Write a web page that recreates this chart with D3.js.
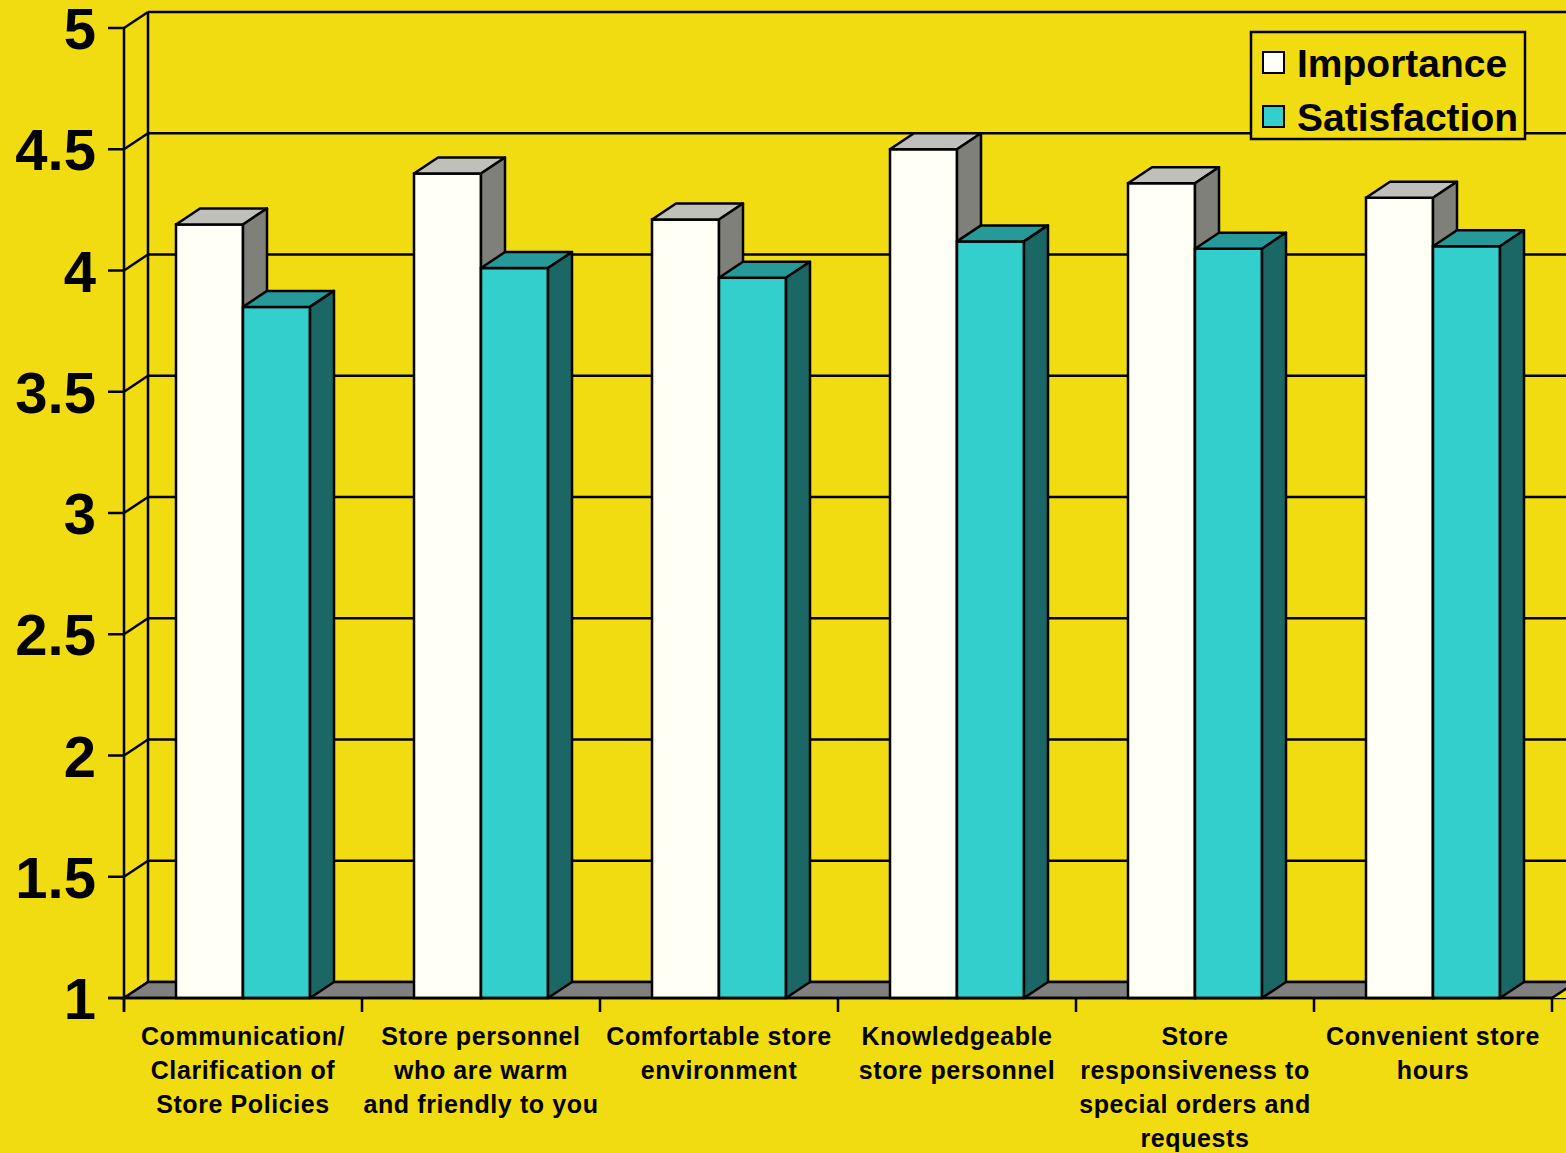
<!DOCTYPE html>
<html>
<head>
<meta charset="utf-8">
<script src="https://cdn.jsdelivr.net/npm/d3@7"></script>
<style>
  html, body { margin: 0; padding: 0; background: #F0DC10; }
  svg { display: block; }
  text { font-family: "Liberation Sans", Arial, sans-serif; font-weight: bold; fill: #000; }
</style>
</head>
<body>
<svg id="chart" width="1566" height="1153"></svg>
<script>
// Store attribute ratings (1–5 scale)
const categories = [
  "Communication/|Clarification of|Store Policies",
  "Store personnel|who are warm|and friendly to you",
  "Comfortable store|environment",
  "Knowledgeable|store personnel",
  "Store|responsiveness to|special orders and|requests",
  "Convenient store|hours"
];
const seriesNames = ["Importance", "Satisfaction"];
const importance = [4.19, 4.40, 4.21, 4.50, 4.36, 4.30];
const satisfaction = [3.85, 4.01, 3.97, 4.12, 4.09, 4.10];
const yTicks = [1, 1.5, 2, 2.5, 3, 3.5, 4, 4.5, 5];
const yTickLabels = ["1", "1.5", "2", "2.5", "3", "3.5", "4", "4.5", "5"];

const seriesValues = { Importance: importance, Satisfaction: satisfaction };
const colors = {
  Importance:   { front: "#FFFFF5", top: "#C0C0BA", side: "#80807A" },
  Satisfaction: { front: "#33CFCD", top: "#269A99", side: "#1B6766" }
};

const svg = d3.select("#chart");
const DX = 24, DY = -16;            // depth offset of the 3D box
const plotLeft = 124, plotRight = 1552, plotBottom = 998, plotTop = 28;

const y = d3.scaleLinear().domain([1, 5]).range([plotBottom, plotTop]);
const x = d3.scaleBand().domain(categories).range([plotLeft, plotRight]).padding(0);
const xs = d3.scaleBand().domain(seriesNames).range([52, 186]).padding(0);

const line = (x1, y1, x2, y2, w = 2.5) =>
  svg.append("line").attr("x1", x1).attr("y1", y1).attr("x2", x2).attr("y2", y2)
     .attr("stroke", "#000").attr("stroke-width", w);

// back wall gridlines
yTicks.forEach(t => line(plotLeft + DX, y(t) + DY, plotRight + DX + 40, y(t) + DY, 2.5));
// back wall left edge
line(plotLeft + DX, y(5) + DY, plotLeft + DX, y(1) + DY);

// side wall: diagonals at each tick
yTicks.forEach(t => line(plotLeft, y(t), plotLeft + DX, y(t) + DY, 2.5));

// floor
svg.append("polygon")
  .attr("points", [[plotLeft, plotBottom], [plotLeft + DX, plotBottom + DY], [plotRight + DX + 40, plotBottom + DY], [plotRight + 40, plotBottom]].join(" "))
  .attr("fill", "#808080").attr("stroke", "#000").attr("stroke-width", 2.5);
svg.append("polygon")
  .attr("points", [[plotRight, plotBottom], [plotRight + DX, plotBottom + DY], [plotRight + DX + 40, plotBottom + DY], [plotRight + 40, plotBottom]].join(" "))
  .attr("fill", "#F0DC10");
line(plotRight, plotBottom, plotRight + DX, plotBottom + DY);

// front vertical axis and ticks
line(plotLeft, y(5), plotLeft, plotBottom + 14);
yTicks.forEach(t => line(plotLeft - 16, y(t), plotLeft, y(t)));

// bars
categories.forEach((c, i) => {
  seriesNames.forEach(s => {
    const v = seriesValues[s][i];
    const x0 = x(c) + xs(s), x1 = x0 + xs.bandwidth();
    const yt = y(v);
    const g = svg.append("g");
    g.append("rect").attr("x", x0).attr("y", yt).attr("width", x1 - x0).attr("height", plotBottom - yt)
      .attr("fill", colors[s].front).attr("stroke", "#000").attr("stroke-width", 2.5);
    g.append("polygon")
      .attr("points", [[x0, yt], [x0 + DX, yt + DY], [x1 + DX, yt + DY], [x1, yt]].join(" "))
      .attr("fill", colors[s].top).attr("stroke", "#000").attr("stroke-width", 2.5).attr("stroke-linejoin", "round");
    g.append("polygon")
      .attr("points", [[x1, yt], [x1 + DX, yt + DY], [x1 + DX, plotBottom + DY], [x1, plotBottom]].join(" "))
      .attr("fill", colors[s].side).attr("stroke", "#000").attr("stroke-width", 2.5).attr("stroke-linejoin", "round");
  });
});

// front bottom axis line and category ticks
line(plotLeft - 16, plotBottom, plotRight, plotBottom);
categories.forEach(c => line(x(c), plotBottom, x(c), plotBottom + 14));
line(plotRight, plotBottom, plotRight, plotBottom + 14);

// y tick labels (baseline set so the digits sit centred on each tick)
svg.append("g").selectAll("text").data(yTicks).join("text")
  .attr("x", 96).attr("y", d => y(d) + 21)
  .attr("text-anchor", "end")
  .style("font-size", "58px")
  .text((d, i) => yTickLabels[i]);

// category labels
categories.forEach(c => {
  const lines = c.split("|");
  const cx = x(c) + x.bandwidth() / 2;
  const t = svg.append("text").attr("text-anchor", "middle").style("font-size", "25px")
    .attr("x", cx).attr("y", 1045);
  lines.forEach((l, k) => t.append("tspan").attr("x", cx)
    .attr("dy", k === 0 ? 0 : 34).attr("letter-spacing", "0.6px").text(l));
});

// legend
const lg = svg.append("g");
lg.append("rect").attr("x", 1251).attr("y", 32).attr("width", 274).attr("height", 107)
  .attr("fill", "#F0DC10").attr("stroke", "#000").attr("stroke-width", 2.5);
seriesNames.forEach((s, i) => {
  const cy = 63 + i * 54;
  lg.append("rect").attr("x", 1263).attr("y", cy - 11).attr("width", 21).attr("height", 21)
    .attr("fill", colors[s].front).attr("stroke", "#000").attr("stroke-width", 2);
  lg.append("text").attr("x", 1297).attr("y", cy).attr("dominant-baseline", "central")
    .style("font-size", "39px").text(s);
});
</script>
</body>
</html>
